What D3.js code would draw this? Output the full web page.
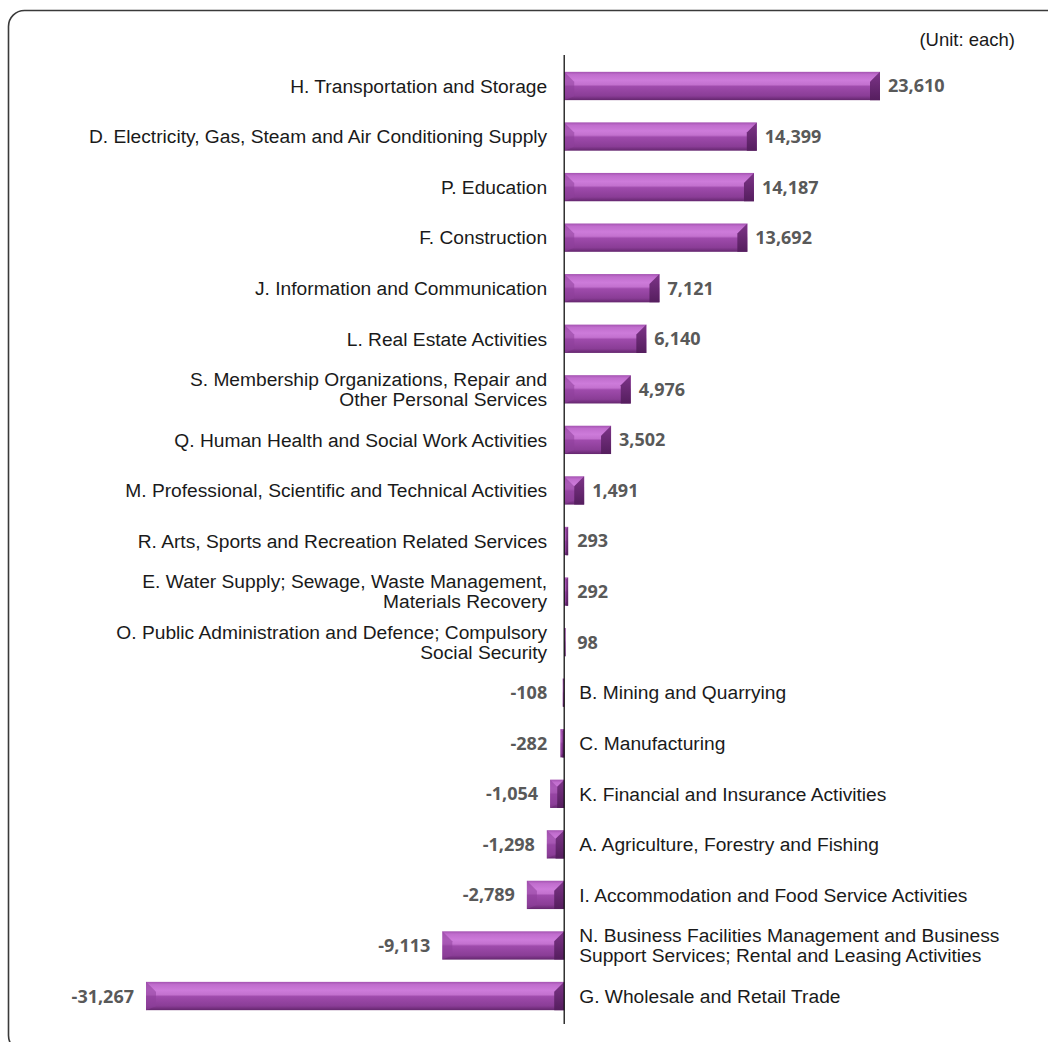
<!DOCTYPE html>
<html>
<head>
<meta charset="utf-8">
<script src="https://cdn.jsdelivr.net/npm/d3@7"></script>
<style>
  body { margin: 0; background: #fff; }
  svg { display: block; }
  .cat { font-family: "Liberation Sans", Arial, sans-serif; font-size: 19.2px; fill: #1a1a1a; }
  .val { font-family: "Open Sans", sans-serif; font-weight: 700; font-size: 18px; fill: #595959; }
  .unit { font-family: "Liberation Sans", Arial, sans-serif; font-size: 18.5px; fill: #1a1a1a; }
</style>
</head>
<body>
<svg></svg>
<script>
const categories = [
  "H. Transportation and Storage",
  "D. Electricity, Gas, Steam and Air Conditioning Supply",
  "P. Education",
  "F. Construction",
  "J. Information and Communication",
  "L. Real Estate Activities",
  "S. Membership Organizations, Repair and|Other Personal Services",
  "Q. Human Health and Social Work Activities",
  "M. Professional, Scientific and Technical Activities",
  "R. Arts, Sports and Recreation Related Services",
  "E. Water Supply; Sewage, Waste Management,|Materials Recovery",
  "O. Public Administration and Defence; Compulsory|Social Security",
  "B. Mining and Quarrying",
  "C. Manufacturing",
  "K. Financial and Insurance Activities",
  "A. Agriculture, Forestry and Fishing",
  "I. Accommodation and Food Service Activities",
  "N. Business Facilities Management and Business|Support Services; Rental and Leasing Activities",
  "G. Wholesale and Retail Trade"
];
const values = [23610, 14399, 14187, 13692, 7121, 6140, 4976, 3502, 1491, 293, 292, 98,
  -108, -282, -1054, -1298, -2789, -9113, -31267];
const unitLabel = "(Unit: each)";

const data = categories.map((c, i) => ({ cat: c, value: values[i] }));

const fmt = d3.formatLocale({ decimal: ".", thousands: ",", grouping: [3], currency: ["", ""], minus: "-" }).format(",");

const svg = d3.select("svg").attr("width", 1048).attr("height", 1042);

// frame
svg.append("rect")
  .attr("x", 8.5).attr("y", 10.5)
  .attr("width", 1070).attr("height", 1041)
  .attr("rx", 16)
  .attr("fill", "none")
  .attr("stroke", "#3a3a3a")
  .attr("stroke-width", 1.6);

svg.append("text")
  .attr("class", "unit")
  .attr("x", 1015).attr("y", 46)
  .attr("text-anchor", "end")
  .text(unitLabel);

const x = d3.scaleLinear()
  .domain([d3.min(values), d3.max(values)])
  .range([146, 880]);

const y = d3.scaleBand()
  .domain(categories)
  .range([60.7, 1021.3])
  .paddingInner(0.44)
  .paddingOuter(0.22);

const defs = svg.append("defs");
const grad = defs.append("linearGradient")
  .attr("id", "barGrad")
  .attr("x1", 0).attr("y1", 0).attr("x2", 0).attr("y2", 1);
[[0, "#a453b1"], [0.1, "#c06dcd"], [0.3, "#cd7bda"], [0.45, "#c371cf"],
 [0.52, "#9f4bac"], [0.85, "#8a3d96"], [1, "#64266e"]].forEach(s => {
  grad.append("stop").attr("offset", s[0]).attr("stop-color", s[1]);
});
const endGrad = defs.append("linearGradient")
  .attr("id", "endGrad")
  .attr("x1", 0).attr("y1", 0).attr("x2", 0).attr("y2", 1);
[[0, "#7d3488"], [1, "#551e5e"]].forEach(s => {
  endGrad.append("stop").attr("offset", s[0]).attr("stop-color", s[1]);
});

const x0 = x(0);
const bh = y.bandwidth();

const bars = svg.selectAll("g.bar")
  .data(data)
  .join("g")
  .attr("class", "bar");

bars.each(function(d) {
  const g = d3.select(this);
  const a = Math.min(x(d.value), x0);
  const b = Math.max(x(d.value), x0);
  const w = b - a;
  const top = y(d.cat);
  const bot = top + bh;
  if (w <= 0.2) return;
  g.append("rect")
    .attr("x", a).attr("y", top)
    .attr("width", w).attr("height", bh)
    .attr("fill", "url(#barGrad)");
  const bev = Math.min(10, w / 2);
  // right chamfer
  g.append("polygon")
    .attr("points", [[b - bev, top + bev], [b, top], [b, bot], [b - bev, bot]].join(" "))
    .attr("fill", "url(#endGrad)");
  // left chamfer
  g.append("polygon")
    .attr("points", [[a, top], [a + bev, top + bev], [a + bev, bot - 4], [a, bot]].join(" "))
    .attr("fill", "#8e3f9b")
    .attr("opacity", 0.55);
});

// zero axis
svg.append("line")
  .attr("x1", x0).attr("x2", x0)
  .attr("y1", 55).attr("y2", 1024)
  .attr("stroke", "#111")
  .attr("stroke-width", 1.3);

// category labels
const cats = svg.selectAll("text.cat")
  .data(data)
  .join("text")
  .attr("class", "cat")
  .attr("text-anchor", d => d.value >= 0 ? "end" : "start")
  .attr("transform", d => {
    const tx = d.value >= 0 ? x0 - 17 : x0 + 15;
    return `translate(${tx}, ${y(d.cat) + bh / 2})`;
  });

cats.each(function(d) {
  const lines = d.cat.split("|");
  const t = d3.select(this);
  lines.forEach((ln, i) => {
    t.append("tspan")
      .attr("x", 0)
      .attr("y", (i - (lines.length - 1) / 2) * 20)
      .attr("dy", "0.35em")
      .text(ln);
  });
});

// value labels
svg.selectAll("text.val")
  .data(data)
  .join("text")
  .attr("class", "val")
  .attr("text-anchor", d => d.value >= 0 ? "start" : "end")
  .attr("x", d => d.value >= 0 ? Math.max(x(d.value) + 8, x0 + 13) : Math.min(x(d.value) - 12, x0 - 17))
  .attr("y", d => y(d.cat) + bh / 2)
  .attr("dy", "0.36em")
  .text(d => fmt(d.value));
</script>
</body>
</html>
